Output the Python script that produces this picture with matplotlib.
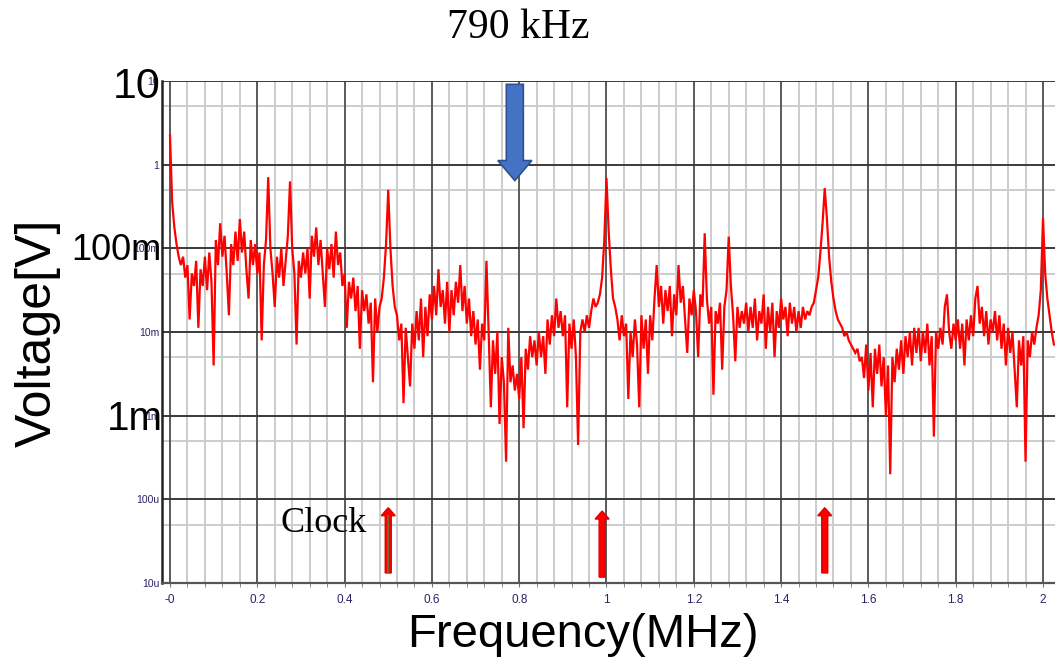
import numpy as np
import matplotlib
matplotlib.use("Agg")
import matplotlib.pyplot as plt
from matplotlib.patches import Polygon
from matplotlib.transforms import IdentityTransform

# Spectrum sampled every 5 kHz from 0 to 2.025 MHz, stored as log10(voltage)
f_start, f_step = 0.0, 0.005
log_v_0 = [0.35, -0.45, -0.75, -0.95, -1.1, -1.2, -1.1, -1.35, -1.2, -1.85,
           -1.3, -1.45, -1.15, -1.95, -1.25, -1.45, -1.1, -1.5, -1.05, -1.4,
           -2.4, -0.9, -1.2, -0.7, -1.1, -0.85, -1.3, -1.8, -0.95, -1.2,
           -0.8, -1.15, -0.65, -1.05, -0.8, -1.25, -1.6, -0.9, -1.2, -0.95,
           -1.3, -1.05, -2.1, -1.2, -0.9, -0.15, -1.0, -1.3, -1.7, -1.1]
log_v_1 = [-1.35, -1.0, -1.45, -1.15, -0.85, -0.2, -1.0, -1.3, -2.15, -1.15,
           -1.35, -1.05, -1.3, -1.0, -1.6, -0.85, -1.1, -0.75, -1.2, -0.9,
           -1.3, -1.7, -1.0, -1.25, -0.95, -1.35, -0.8, -1.2, -1.05, -1.45,
           -1.3, -1.95, -1.4, -1.6, -1.35, -1.75, -1.45, -2.2, -1.5, -1.75,
           -1.55, -1.9, -1.65, -2.6, -1.6, -2.0, -1.7, -1.6, -1.35, -0.95]
log_v_2 = [-0.3, -1.0, -1.45, -1.7, -1.8, -2.1, -1.9, -2.85, -1.95, -2.3,
           -2.65, -1.9, -2.2, -1.75, -2.1, -1.6, -2.3, -1.7, -2.05, -1.55,
           -1.85, -1.45, -1.8, -1.25, -1.7, -1.5, -1.9, -1.4, -2.0, -1.5,
           -1.8, -1.4, -1.65, -1.2, -1.75, -1.45, -1.9, -1.6, -2.05, -1.75,
           -2.15, -1.85, -2.45, -1.9, -2.1, -1.15, -2.0, -2.9, -2.1, -2.5]
log_v_3 = [-2.0, -3.1, -2.3, -2.6, -3.55, -1.95, -2.6, -2.4, -2.7, -2.5,
           -2.8, -2.3, -3.15, -2.2, -2.45, -2.05, -2.3, -2.1, -2.4, -2.0,
           -2.3, -2.05, -2.5, -1.85, -2.15, -1.8, -2.05, -1.6, -1.95, -1.75,
           -2.05, -1.8, -2.9, -1.9, -2.2, -1.85, -2.3, -3.35, -2.0, -1.85,
           -2.0, -1.8, -1.95, -1.75, -1.6, -1.7, -1.65, -1.55, -1.35, -0.9]
log_v_4 = [-0.16, -0.8, -1.25, -1.6, -1.7, -1.85, -2.1, -1.8, -2.05, -1.9,
           -2.8, -2.0, -2.3, -1.85, -2.15, -2.9, -1.8, -2.2, -1.85, -2.5,
           -1.8, -2.1, -1.6, -1.2, -1.7, -1.45, -1.9, -1.5, -1.75, -1.45,
           -2.05, -1.55, -1.8, -1.2, -1.65, -1.45, -1.85, -2.25, -1.6, -1.8,
           -1.5, -1.75, -2.3, -1.55, -1.7, -0.82, -1.6, -1.9, -1.7, -2.75]
log_v_5 = [-1.75, -1.9, -1.65, -2.45, -1.7, -1.5, -0.86, -1.45, -1.8, -2.35,
           -1.7, -1.95, -1.75, -1.9, -1.65, -2.0, -1.7, -1.95, -1.6, -2.1,
           -1.75, -1.9, -1.55, -2.2, -1.7, -2.0, -1.65, -2.3, -1.75, -1.95,
           -1.6, -1.85, -1.7, -2.05, -1.65, -1.9, -1.7, -2.0, -1.75, -1.95,
           -1.7, -1.85, -1.75, -1.8, -1.7, -1.65, -1.5, -1.35, -1.05, -0.7]
log_v_6 = [-0.28, -0.65, -1.1, -1.4, -1.6, -1.75, -1.85, -1.9, -1.95, -2.05,
           -2.0, -2.1, -2.15, -2.2, -2.25, -2.2, -2.35, -2.3, -2.55, -2.15,
           -2.7, -2.25, -2.9, -2.2, -2.5, -2.15, -2.65, -2.3, -3.0, -2.4,
           -3.7, -2.3, -2.6, -2.2, -2.45, -2.1, -2.5, -2.05, -2.3, -2.0,
           -2.4, -1.95, -2.25, -1.95, -2.35, -2.0, -2.25, -1.9, -2.4, -2.05]
log_v_7 = [-3.25, -2.0, -2.2, -1.95, -2.15, -1.7, -1.55, -2.0, -2.2, -1.9,
           -2.1, -1.85, -2.2, -1.9, -2.4, -1.85, -2.1, -1.8, -2.05, -1.6,
           -1.45, -1.9, -1.7, -2.05, -1.75, -2.15, -1.85, -2.0, -1.75, -2.1,
           -1.8, -2.2, -1.9, -2.4, -1.95, -2.25, -2.0, -2.45, -2.9, -2.1,
           -2.4, -2.05, -3.55, -2.1, -2.3, -2.0, -2.15, -1.95, -1.8, -1.5]
log_v_8 = [-0.64, -1.3, -1.6, -1.8, -2.0, -2.15]

# Clock harmonics (MHz) and the marked frequency of interest
clock_marks = [0.50, 0.99, 1.50]
marker_freq = 0.79

x_ticks = [0.0, 0.2, 0.4, 0.6, 0.8, 1.0, 1.2, 1.4, 1.6, 1.8, 2.0]
x_tick_labels = ["-0", "0.2", "0.4", "0.6", "0.8", "1", "1.2", "1.4", "1.6", "1.8", "2"]
y_ticks = [1e1, 1e0, 1e-1, 1e-2, 1e-3, 1e-4, 1e-5]
y_tick_labels = ["10", "1", "100m", "10m", "1m", "100u", "10u"]

log_v = np.array(log_v_0 + log_v_1 + log_v_2 + log_v_3 + log_v_4
                 + log_v_5 + log_v_6 + log_v_7 + log_v_8)
freq = f_start + f_step * np.arange(len(log_v))
volt = 10.0 ** log_v

W, H = 1055, 665
fig = plt.figure(figsize=(W / 100, H / 100), dpi=100)
fig.patch.set_facecolor("white")
ax = fig.add_axes([162 / W, 1 - 583 / H, (W - 162) / W, (583 - 81) / H])
ax.set_yscale("log")
ax.set_xlim(-0.0183, 2.0275)
ax.set_ylim(1e-5, 10)

# grid: minor every 0.04 MHz and at 5x each decade, major every 0.2 MHz / decade
for xv in np.arange(0.04, 2.04, 0.04):
    if abs(xv / 0.2 - round(xv / 0.2)) > 1e-6:
        ax.axvline(xv, color="#cdcdcd", lw=1.4, zorder=1)
for e in range(-5, 1):
    ax.axhline(5 * 10.0 ** e, color="#cdcdcd", lw=1.4, zorder=1)
for xv in x_ticks:
    ax.axvline(xv, color="#5a5a5a", lw=1.4, zorder=1.5)
for yv in y_ticks:
    ax.axhline(yv, color="#3a3a3a", lw=1.4, zorder=1.5)

ax.plot(freq, volt, color="#ff0000", lw=1.6, zorder=3, solid_joinstyle="miter")

for s in ["top", "right"]:
    ax.spines[s].set_visible(False)
ax.spines["left"].set_linewidth(1.8)
ax.spines["bottom"].set_linewidth(1.6)
ax.spines["left"].set_color("#222222")
ax.spines["bottom"].set_color("#555555")

tick_color = "#2a2466"
ax.set_xticks(x_ticks)
ax.set_xticklabels(x_tick_labels, fontsize=8.5, color=tick_color, family="Liberation Sans")
ax.set_xticks(np.arange(0.04, 2.04, 0.04), minor=True)
ax.tick_params(axis="x", which="both", direction="out", length=3, color="#777777", pad=5)
ax.set_yticks(y_ticks)
ax.set_yticklabels(y_tick_labels, fontsize=7.5, color=tick_color, family="Liberation Sans")
ax.yaxis.set_minor_locator(matplotlib.ticker.NullLocator())
ax.tick_params(axis="y", which="both", length=0, pad=2)


def px_arrow(x, y_tail, y_tip, body_w, head_w, head_l, **kw):
    """Block arrow anchored in data coordinates, sized in pixels."""
    X, Yt = ax.transData.transform((x, y_tail))
    _, Yh = ax.transData.transform((x, y_tip))
    d = np.sign(Yh - Yt)
    hb = Yh - d * head_l
    verts = [(X - body_w / 2, Yt), (X - body_w / 2, hb), (X - head_w / 2, hb),
             (X, Yh), (X + head_w / 2, hb), (X + body_w / 2, hb), (X + body_w / 2, Yt)]
    p = Polygon(verts, closed=True, transform=IdentityTransform(), clip_on=False, **kw)
    fig.add_artist(p)
    return X, Yt, hb


# blue marker arrow pointing down at 790 kHz
px_arrow(marker_freq, 10 ** 0.96, 10 ** -0.19, 17, 34, 20,
         facecolor="#4472c4", edgecolor="#2f528f", lw=1.2, zorder=5)

# red arrows at the clock harmonics
clock_tails = [10 ** -4.88, 10 ** -4.93, 10 ** -4.88]
clock_tips = [10 ** -4.10, 10 ** -4.14, 10 ** -4.10]
for k, (cx, yt, yh) in enumerate(zip(clock_marks, clock_tails, clock_tips)):
    X, Yt, hb = px_arrow(cx, yt, yh, 6, 14, 8, facecolor="#ff0000",
                         edgecolor="#e00000", lw=1.0, zorder=5)
    if k == 0:
        fig.add_artist(plt.Line2D([X, X], [Yt + 1, hb], transform=IdentityTransform(),
                                  color="#5b7a2e", lw=1.2, zorder=6))

# overlaid annotations
def ftext(x, y, s, **kw):
    fig.text(x / W, 1 - y / H, s, **kw)

ftext(518, 28, "790 kHz", fontsize=30, family="Liberation Serif", ha="center", va="center")
ftext(324, 523, "Clock", fontsize=26, family="Liberation Serif", ha="center", va="center")
ftext(583, 635, "Frequency(MHz)", fontsize=34, family="Liberation Sans", ha="center", va="center")
ftext(38, 333, "Voltage[V]", fontsize=36, family="Liberation Sans", ha="center",
      va="center", rotation=90)
ftext(161, 87, "10", fontsize=31, family="Liberation Sans", ha="right", va="center")
ftext(162, 251, "100m", fontsize=26, family="Liberation Sans", ha="right", va="center")
ftext(163, 419, "1m", fontsize=29, family="Liberation Sans", ha="right", va="center")

fig.savefig("out.png", dpi=100)
